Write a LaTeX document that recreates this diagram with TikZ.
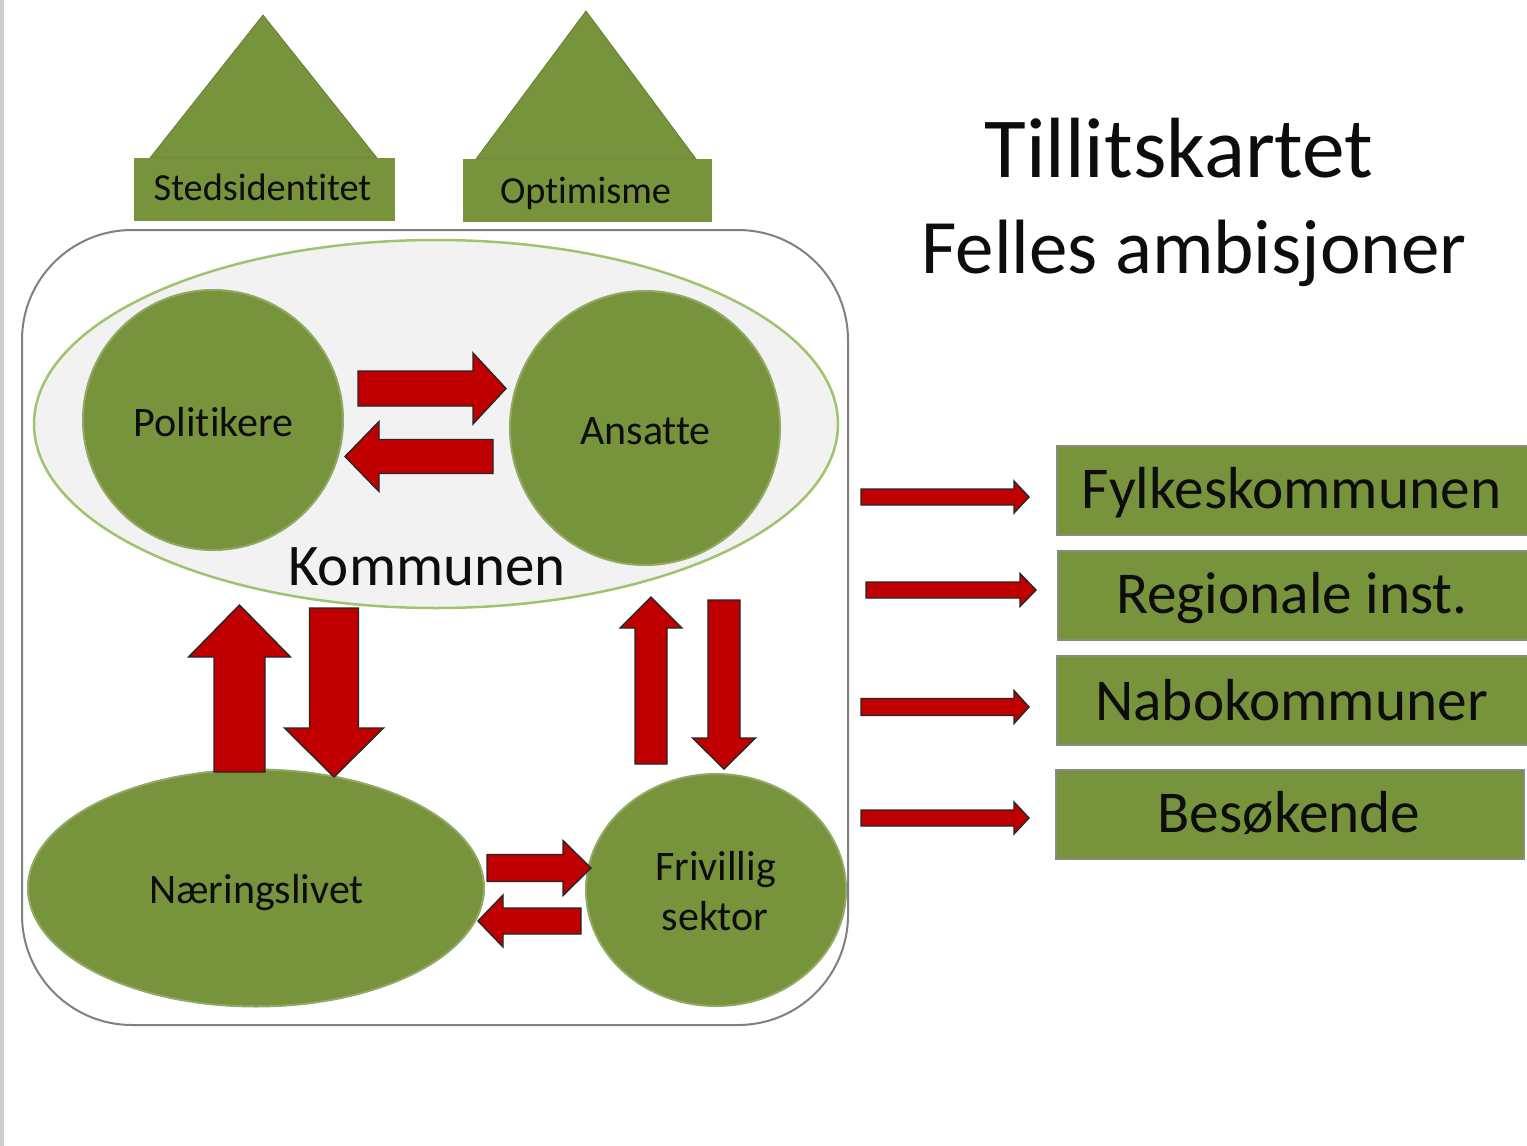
\documentclass[tikz,border=0pt]{standalone}
\usepackage{fontspec}
\setmainfont{Carlito}[Ligatures={NoCommon}]
\usetikzlibrary{shapes.geometric}
\definecolor{ogreen}{RGB}{119,147,60}
\definecolor{ared}{RGB}{192,0,0}
\definecolor{kfill}{RGB}{242,242,242}
\definecolor{kedge}{RGB}{160,195,110}
\definecolor{frameg}{RGB}{128,128,128}
\definecolor{boxedge}{RGB}{135,140,125}
\definecolor{leftline}{RGB}{205,205,205}
\newcommand\harrowblk[6]{% tail x, tip x, centre y, shaft half, head half, head length (signed)
  \draw[blockarr] ({#1},{#3-#4}) -- ({#2-(#6)},{#3-#4}) -- ({#2-(#6)},{#3-#5}) -- ({#2},{#3})
    -- ({#2-(#6)},{#3+#5}) -- ({#2-(#6)},{#3+#4}) -- ({#1},{#3+#4}) -- cycle;}
\newcommand\varrowblk[6]{% tail y, tip y, centre x, shaft half, head half, head length (signed)
  \draw[blockarr] ({#3-#4},{#1}) -- ({#3-#4},{#2-(#6)}) -- ({#3-#5},{#2-(#6)}) -- ({#3},{#2})
    -- ({#3+#5},{#2-(#6)}) -- ({#3+#4},{#2-(#6)}) -- ({#3+#4},{#1}) -- cycle;}
\tikzset{
  blockarr/.style={fill=ared, draw=black!85, line width=1.4pt, line join=miter},
  greenshape/.style={ellipse, fill=ogreen, draw=ogreen!80!white, line width=2pt, inner sep=0pt},
  lbl/.style={anchor=base, inner sep=0pt, text=black!95},
  gbox/.style={rectangle, fill=ogreen, draw=boxedge, line width=2pt, inner sep=0pt, anchor=north west},
  housepart/.style={fill=ogreen, draw=ogreen!85!black, line width=0.8pt},
  fsmall/.style={font=\fontsize{38.3}{44}\selectfont},
  fmid/.style={font=\fontsize{42}{50}\selectfont},
  fbig/.style={font=\fontsize{59.3}{66}\selectfont},
}
\begin{document}
\begin{tikzpicture}[x=1pt,y=-1pt]
\useasboundingbox (0,0) rectangle (1527,1146);
\fill[white] (0,0) rectangle (1527,1146);
\fill[leftline] (0,0) rectangle (4,1146);

% houses
\draw[housepart] (150,158) -- (263,15) -- (377,158) -- cycle;
\node[gbox, draw=none, fill=ogreen, minimum width=261pt, minimum height=63pt] (sted) at (133,157) {};
\draw[housepart] (476,159) -- (586,11) -- (696,159) -- cycle;
\node[gbox, draw=none, fill=ogreen, minimum width=249pt, minimum height=63pt] (opti) at (462,158) {};
\node[lbl, fsmall] (stedt) at (262.5,200) {Stedsidentitet};
\node[lbl, fsmall] (optit) at (585.5,203) {Optimisme};

% frame
\draw[frameg, line width=2pt, rounded corners=110pt] (22,230) rectangle (848,1025);

% Kommunen
\node[ellipse, fill=kfill, draw=kedge, line width=2.5pt, inner sep=0pt,
      minimum width=804pt, minimum height=368pt] (komm) at (436,424) {};
\node[greenshape, minimum width=260pt, minimum height=260pt] (pol) at (213,420) {};
\node[greenshape, minimum width=270pt, minimum height=274pt] (ans) at (645,428) {};
\node[greenshape, minimum width=456pt, minimum height=237pt] (naer) at (256,888) {};
\node[greenshape, minimum width=260pt, minimum height=232pt] (friv) at (716,890) {};

\node[lbl, fmid] (polt) at (213.5,436) {Politikere};
\node[lbl, fmid] (anst) at (645.5,444) {Ansatte};
\node[lbl, fmid] (naert) at (256.5,903) {Næringslivet};
\node[lbl, fmid] (frivt1) at (715.5,880) {Frivillig};
\node[lbl, fmid] (frivt2) at (715,930) {sektor};
\node[lbl, font=\fontsize{59}{66}\selectfont] (kommt) at (427,585) {Kommunen};

% block arrows inside
\harrowblk{358}{506}{388.5}{17.5}{35.5}{33}
\harrowblk{493}{345}{456.5}{17}{35}{-34}
\harrowblk{487}{591}{868}{13.5}{27.5}{28}
\harrowblk{581}{478}{921}{13}{26}{-25}
\varrowblk{772}{605}{239.5}{25.5}{51}{-52}
\varrowblk{608}{777}{334}{24.5}{49.5}{49}
\varrowblk{764}{597}{651}{16}{31}{-31}
\varrowblk{600}{769}{724}{16}{31.5}{31}

% right side
\node[gbox, minimum width=471pt, minimum height=89pt] (fyl) at (1056,445) {};
\node[gbox, minimum width=470pt, minimum height=89pt] (reg) at (1057,550) {};
\node[gbox, minimum width=471pt, minimum height=89pt] (nabo) at (1056,655) {};
\node[gbox, minimum width=468pt, minimum height=89pt] (besok) at (1055,769) {};
\node[lbl, fbig] (fylt) at (1291.5,508) {Fylkeskommunen};
\node[lbl, fbig] (regt) at (1292,613) {Regionale inst.};
\node[lbl, fbig] (nabot) at (1291.5,720) {Nabokommuner};
\node[lbl, fbig] (besokt) at (1289,832) {Besøkende};

\harrowblk{861}{1029}{497}{8}{16}{15}
\harrowblk{866}{1036}{590}{8}{16.5}{16}
\harrowblk{861}{1029}{707}{8.5}{16.5}{15}
\harrowblk{861}{1029}{818}{8}{16}{15}

% titles
\node[lbl, font=\fontsize{85.5}{95}\selectfont] (title1) at (1179,177) {Tillitskartet};
\node[lbl, font=\fontsize{77}{88}\selectfont] (title2) at (1194,273) {Felles ambisjoner};
\end{tikzpicture}
\end{document}
